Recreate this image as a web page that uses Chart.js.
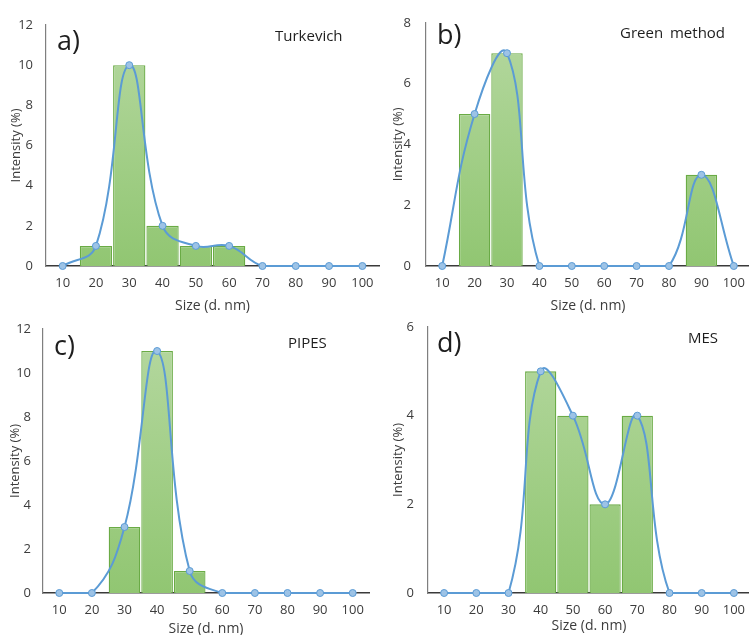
<!DOCTYPE html>
<html>
<head>
<meta charset="utf-8">
<script src="https://cdn.jsdelivr.net/npm/chart.js@4/dist/chart.umd.min.js"></script>
<style>
  html, body { margin: 0; padding: 0; background: #fff; width: 749px; height: 635px; overflow: hidden; position: relative; font-family: "Open Sans", sans-serif; }
  .wrap { position: absolute; }
  .lbl { position: absolute; color: #1e1e1e; white-space: nowrap; line-height: 1; }
  .big { font-size: 27px; }
  .name { font-size: 15px; }
</style>
</head>
<body>
<div class="wrap" id="wa" style="left:0px;top:0px;width:385px;height:315px"><canvas id="ca"></canvas></div>
<div class="wrap" id="wb" style="left:375px;top:0px;width:380px;height:315px"><canvas id="cb"></canvas></div>
<div class="wrap" id="wc" style="left:0px;top:300px;width:385px;height:340px"><canvas id="cc"></canvas></div>
<div class="wrap" id="wd" style="left:375px;top:300px;width:380px;height:340px"><canvas id="cd"></canvas></div>

<div class="lbl big" style="left:57px;top:26px">a)</div>
<div class="lbl name" style="left:275px;top:28px">Turkevich</div>
<div class="lbl big" style="left:437px;top:20px">b)</div>
<div class="lbl name" style="left:620px;top:25px;word-spacing:3px">Green method</div>
<div class="lbl big" style="left:54px;top:331px">c)</div>
<div class="lbl name" style="left:288px;top:335px">PIPES</div>
<div class="lbl big" style="left:437px;top:328px">d)</div>
<div class="lbl name" style="left:688px;top:330px">MES</div>

<script>
const sizes = ['10', '20', '30', '40', '50', '60', '70', '80', '90', '100'];

const turkevichBars = [null, 1, 10, 2, 1, 1, null, null, null, null];
const turkevichLine = [0, 1, 10, 2, 1, 1, 0, 0, 0, 0];

const greenBars = [null, 5, 7, null, null, null, null, null, 3, null];
const greenLine = [0, 5, 7, 0, 0, 0, 0, 0, 3, 0];

const pipesBars = [null, null, 3, 11, 1, null, null, null, null, null];
const pipesLine = [0, 0, 3, 11, 1, 0, 0, 0, 0, 0];

const mesBars = [null, null, null, 5, 4, 2, 4, null, null, null];
const mesLine = [0, 0, 0, 5, 4, 2, 4, 0, 0, 0];

const xTitle = 'Size (d. nm)';
const yTitle = 'Intensity (%)';

function barGradient(ctx) {
  const chart = ctx.chart;
  const a = chart.chartArea;
  if (!a) return '#a9d18e';
  const g = chart.ctx.createLinearGradient(0, a.top, 0, a.bottom);
  g.addColorStop(0, '#b5d8a0');
  g.addColorStop(1, '#91c672');
  return g;
}

function makeChart(id, bars, line, yMax, geo) {
  const ctx = document.getElementById(id);
  return new Chart(ctx, {
    type: 'bar',
    data: {
      labels: sizes,
      datasets: [
        {
          type: 'line',
          data: line,
          order: 0,
          borderColor: '#5b9bd5',
          borderWidth: 2,
          tension: 0.42,
          pointRadius: 3.5,
          pointBackgroundColor: '#9dc3e6',
          pointBorderColor: '#5b9bd5',
          pointBorderWidth: 1,
          clip: false,
          fill: false
        },
        {
          type: 'bar',
          data: bars,
          order: 1,
          backgroundColor: barGradient,
          borderColor: '#6aab45',
          borderWidth: 1.3,
          barPercentage: 0.97,
          categoryPercentage: 1.0
        }
      ]
    },
    options: {
      responsive: true,
      maintainAspectRatio: false,
      animation: false,
      devicePixelRatio: 1,
      layout: { padding: { left: 0, top: geo.top, right: geo.w - geo.right, bottom: 0 } },
      plugins: { legend: { display: false }, tooltip: { enabled: false } },
      scales: {
        x: {
          grid: { display: false, drawTicks: false },
          border: { display: true, color: '#3a3a3a', width: 1.5 },
          ticks: { color: '#3c3c3c', font: { family: 'Open Sans', size: 13 }, padding: 9, maxRotation: 0, autoSkip: false },
          title: { display: true, text: xTitle, color: '#3c3c3c', font: { family: 'Open Sans', size: 14 }, padding: { top: 0, bottom: geo.xtp } },
          afterFit: (s) => { s.height = geo.h - geo.bottom; }
        },
        y: {
          min: 0, max: yMax,
          grid: { display: false, drawTicks: false },
          border: { display: true, color: '#7f7f7f', width: 1.2 },
          ticks: { stepSize: 2, color: '#3c3c3c', font: { family: 'Open Sans', size: 13 }, padding: geo.ytk },
          title: { display: true, text: yTitle, color: '#3c3c3c', font: { family: 'Open Sans', size: 13 }, padding: { top: geo.ytp, bottom: 0 } },
          afterFit: (s) => { s.width = geo.left; }
        }
      }
    }
  });
}

makeChart('ca', turkevichBars, turkevichLine, 12, { w: 385, h: 315, left: 46, right: 379, top: 25, bottom: 266, ytp: 8, xtp: 1, ytk: 13 });
makeChart('cb', greenBars, greenLine, 8, { w: 380, h: 315, left: 51, right: 376, top: 14, bottom: 266, ytp: 15, xtp: 1, ytk: 15 });
makeChart('cc', pipesBars, pipesLine, 12, { w: 385, h: 340, left: 43, right: 369, top: 29, bottom: 293, ytp: 7, xtp: 3, ytk: 12 });
makeChart('cd', mesBars, mesLine, 6, { w: 380, h: 340, left: 53, right: 379, top: 27, bottom: 293, ytp: 15, xtp: 6, ytk: 14 });
</script>
</body>
</html>
